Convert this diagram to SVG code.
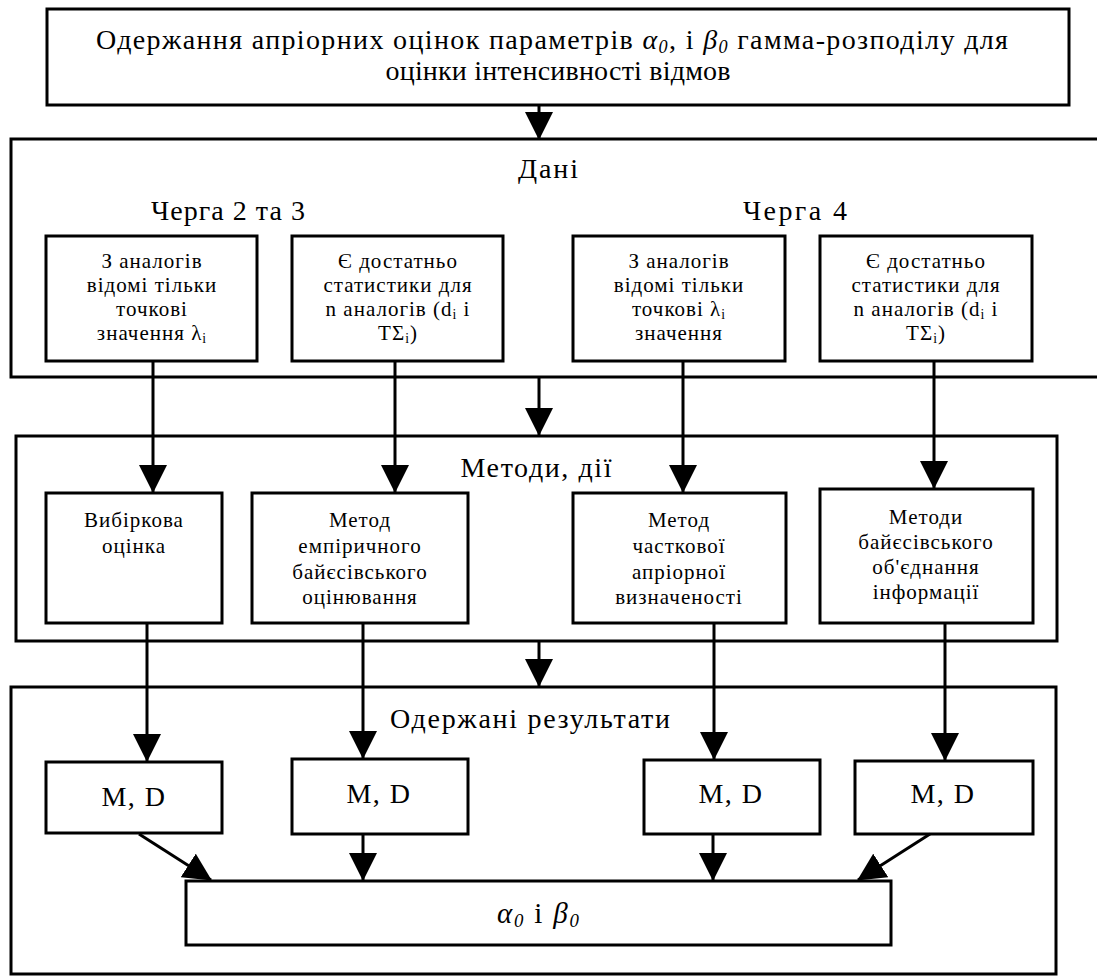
<svg xmlns="http://www.w3.org/2000/svg" width="1097" height="976" viewBox="0 0 1097 976">
  <style>
    .box { fill: #fff; stroke: #000; stroke-width: 3; }
    .frame { fill: none; stroke: #000; stroke-width: 3; }
    .t { font-family: "Liberation Serif", "Times New Roman", serif; fill: #000; text-anchor: middle; }
    .head { font-size: 28px; }
    .title { font-size: 28px; }
    .small { font-size: 21px; letter-spacing: 1px; }
    .md { font-size: 28px; letter-spacing: 1.5px; }
    .it { font-style: italic; }
    .sub { font-size: 0.65em; }
    .conn line { stroke: #000; stroke-width: 3; }
  </style>
  <defs>
    <marker id="arr" markerUnits="userSpaceOnUse" markerWidth="28" markerHeight="28" refX="27" refY="14" orient="auto">
      <path d="M0,0 L28,14 L0,28 z" fill="#000"/>
    </marker>
  </defs>

  <rect width="1097" height="976" fill="#fff"/>

  <!-- heading block -->
  <g id="top">
    <rect class="box" x="47" y="9" width="1022" height="96"/>
    <text class="t head" x="552" y="49" textLength="912" lengthAdjust="spacing">Одержання апріорних оцінок параметрів <tspan class="it">α<tspan class="sub" dy="4">0</tspan></tspan><tspan dy="-4">, і </tspan><tspan class="it">β<tspan class="sub" dy="4">0</tspan></tspan><tspan dy="-4"> гамма-розподілу для</tspan></text>
    <text class="t head" x="558" y="80" textLength="345" lengthAdjust="spacing">оцінки інтенсивності відмов</text>
  </g>

  <!-- input data container -->
  <g id="data">
    <rect class="frame" x="11" y="139" width="1100" height="238"/>
    <text class="t title" x="548" y="178" textLength="60" lengthAdjust="spacing">Дані</text>
    <text class="t title" x="228" y="220" textLength="154" lengthAdjust="spacing">Черга 2 та 3</text>
    <text class="t title" x="795" y="220" textLength="104" lengthAdjust="spacing">Черга 4</text>
  </g>

  <g id="data1">
    <rect class="box" x="46" y="236" width="211" height="125"/>
    <text class="t small" x="152" y="268">З аналогів</text>
    <text class="t small" x="152" y="292">відомі тільки</text>
    <text class="t small" x="152" y="316">точкові</text>
    <text class="t small" x="152" y="340">значення λ<tspan class="sub" dy="3">i</tspan></text>
  </g>
  <g id="data2">
    <rect class="box" x="292" y="236" width="211" height="125"/>
    <text class="t small" x="398" y="268">Є достатньо</text>
    <text class="t small" x="398" y="292">статистики для</text>
    <text class="t small" x="398" y="316">n аналогів (d<tspan class="sub" dy="3">i</tspan><tspan dy="-3"> і</tspan></text>
    <text class="t small" x="398" y="340">TΣ<tspan class="sub" dy="3">i</tspan><tspan dy="-3">)</tspan></text>
  </g>
  <g id="data3">
    <rect class="box" x="573" y="236" width="212" height="125"/>
    <text class="t small" x="679" y="268">З аналогів</text>
    <text class="t small" x="679" y="292">відомі тільки</text>
    <text class="t small" x="679" y="316">точкові λ<tspan class="sub" dy="3">i</tspan></text>
    <text class="t small" x="679" y="340">значення</text>
  </g>
  <g id="data4">
    <rect class="box" x="820" y="236" width="212" height="125"/>
    <text class="t small" x="926" y="268">Є достатньо</text>
    <text class="t small" x="926" y="292">статистики для</text>
    <text class="t small" x="926" y="316">n аналогів (d<tspan class="sub" dy="3">i</tspan><tspan dy="-3"> і</tspan></text>
    <text class="t small" x="926" y="340">TΣ<tspan class="sub" dy="3">i</tspan><tspan dy="-3">)</tspan></text>
  </g>

  <!-- methods container -->
  <g id="methods">
    <rect class="frame" x="16" y="436" width="1041" height="205"/>
    <text class="t title" x="536" y="477" textLength="151" lengthAdjust="spacing">Методи, дії</text>
  </g>
  <g id="m1">
    <rect class="box" x="46" y="493" width="176" height="130"/>
    <text class="t small" x="134" y="527">Вибіркова</text>
    <text class="t small" x="134" y="553">оцінка</text>
  </g>
  <g id="m2">
    <rect class="box" x="252" y="493" width="216" height="130"/>
    <text class="t small" x="360" y="527">Метод</text>
    <text class="t small" x="360" y="553">емпіричного</text>
    <text class="t small" x="360" y="579">байєсівського</text>
    <text class="t small" x="360" y="604">оцінювання</text>
  </g>
  <g id="m3">
    <rect class="box" x="573" y="493" width="213" height="130"/>
    <text class="t small" x="679" y="527">Метод</text>
    <text class="t small" x="679" y="553">часткової</text>
    <text class="t small" x="679" y="579">апріорної</text>
    <text class="t small" x="679" y="604">визначеності</text>
  </g>
  <g id="m4">
    <rect class="box" x="820" y="489" width="213" height="134"/>
    <text class="t small" x="926" y="524">Методи</text>
    <text class="t small" x="926" y="549">байєсівського</text>
    <text class="t small" x="926" y="574">об'єднання</text>
    <text class="t small" x="926" y="599">інформації</text>
  </g>

  <!-- results container -->
  <g id="results">
    <rect class="frame" x="11" y="687" width="1045" height="287"/>
    <text class="t title" x="530" y="728" textLength="280" lengthAdjust="spacing">Одержані результати</text>
  </g>
  <g id="r1">
    <rect class="box" x="46" y="762" width="176" height="71"/>
    <text class="t md" x="134" y="806">M, D</text>
  </g>
  <g id="r2">
    <rect class="box" x="292" y="759" width="176" height="75"/>
    <text class="t md" x="379" y="803">M, D</text>
  </g>
  <g id="r3">
    <rect class="box" x="644" y="760" width="176" height="74"/>
    <text class="t md" x="731" y="803">M, D</text>
  </g>
  <g id="r4">
    <rect class="box" x="855" y="761" width="178" height="73"/>
    <text class="t md" x="943" y="803">M, D</text>
  </g>
  <g id="final">
    <rect class="box" x="186" y="881" width="705" height="64"/>
    <text class="t" x="538" y="923" style="font-size:29px" textLength="82" lengthAdjust="spacing"><tspan class="it">α<tspan class="sub" dy="4">0</tspan></tspan><tspan dy="-4">  і </tspan><tspan class="it">β<tspan class="sub" dy="4">0</tspan></tspan></text>
  </g>

  <!-- connectors -->
  <g id="connectors" class="conn">
    <line x1="539" y1="105" x2="539" y2="139" marker-end="url(#arr)"/>
    <line x1="153" y1="361" x2="153" y2="492" marker-end="url(#arr)"/>
    <line x1="395" y1="361" x2="395" y2="492" marker-end="url(#arr)"/>
    <line x1="683" y1="361" x2="683" y2="492" marker-end="url(#arr)"/>
    <line x1="934" y1="361" x2="934" y2="488" marker-end="url(#arr)"/>
    <line x1="539" y1="377" x2="539" y2="435" marker-end="url(#arr)"/>
    <line x1="147" y1="623" x2="147" y2="761" marker-end="url(#arr)"/>
    <line x1="363" y1="623" x2="363" y2="758" marker-end="url(#arr)"/>
    <line x1="714" y1="623" x2="714" y2="759" marker-end="url(#arr)"/>
    <line x1="945" y1="623" x2="945" y2="760" marker-end="url(#arr)"/>
    <line x1="539" y1="641" x2="539" y2="686" marker-end="url(#arr)"/>
    <line x1="139" y1="834" x2="211" y2="880" marker-end="url(#arr)"/>
    <line x1="363" y1="834" x2="363" y2="880" marker-end="url(#arr)"/>
    <line x1="713" y1="834" x2="713" y2="880" marker-end="url(#arr)"/>
    <line x1="930" y1="834" x2="858" y2="880" marker-end="url(#arr)"/>
  </g>
</svg>
